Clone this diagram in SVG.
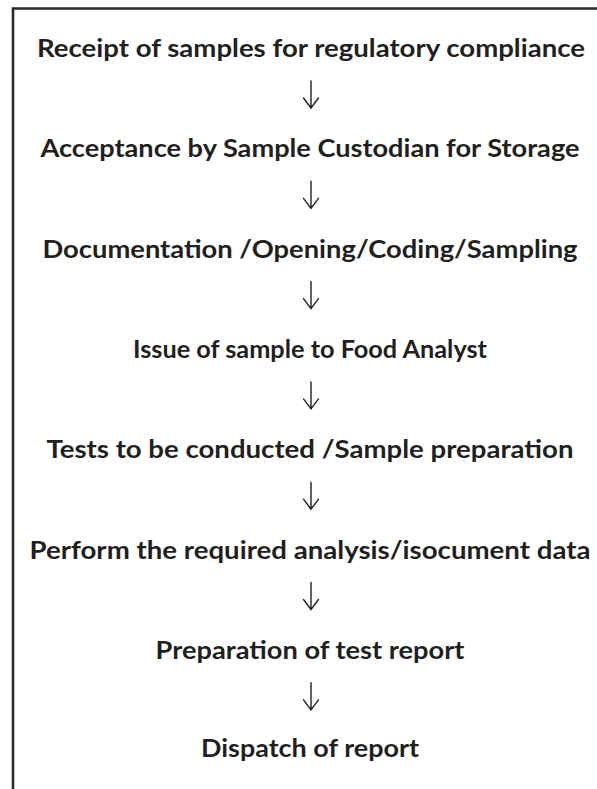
<svg xmlns="http://www.w3.org/2000/svg" width="597" height="789" viewBox="0 0 597 789">
  <style>
    .step { font-family: "Lato", "Open Sans", "Liberation Sans", sans-serif; font-weight: 700; font-size: 25px; fill: #231f20; text-anchor: middle; }
    .conn { fill: none; stroke: #231f20; stroke-width: 1.4; stroke-linecap: round; stroke-linejoin: miter; }
    .frame { fill: none; stroke: #2b2b2b; stroke-width: 2.6; }
  </style>
  <defs>
    <!-- thin downward arrow: shaft plus open chevron head -->
    <g id="down-arrow">
      <path class="conn" d="M0 0 V27 M-7.5 17 L0 27 L7.5 17"/>
    </g>
  </defs>
  <rect width="597" height="789" fill="#ffffff"/>
  <!-- outer frame: top and left edges -->
  <path class="frame" d="M13 789 V8.5 H597"/>

  <g id="connectors">
    <use href="#down-arrow" x="311" y="81"/>
    <use href="#down-arrow" x="311" y="181.3"/>
    <use href="#down-arrow" x="311" y="281.6"/>
    <use href="#down-arrow" x="311" y="381.9"/>
    <use href="#down-arrow" x="311" y="482.2"/>
    <use href="#down-arrow" x="311" y="582.5"/>
    <use href="#down-arrow" x="311" y="682.8"/>
  </g>

  <g id="step-receipt"><text class="step" x="311" y="57" textLength="548" lengthAdjust="spacingAndGlyphs">Receipt of samples for regulatory compliance</text></g>
  <g id="step-acceptance"><text class="step" x="310" y="157.3" textLength="539" lengthAdjust="spacingAndGlyphs">Acceptance by Sample Custodian for Storage</text></g>
  <g id="step-documentation"><text class="step" x="310" y="257.6" textLength="535" lengthAdjust="spacingAndGlyphs">Documentation /Opening/Coding/Sampling</text></g>
  <g id="step-issue"><text class="step" x="310" y="357.9" textLength="354" lengthAdjust="spacingAndGlyphs">Issue of sample to Food Analyst</text></g>
  <g id="step-tests"><text class="step" x="310" y="458.2" textLength="527" lengthAdjust="spacingAndGlyphs">Tests to be conducted /Sample preparation</text></g>
  <g id="step-perform"><text class="step" x="310" y="558.5" textLength="561" lengthAdjust="spacingAndGlyphs">Perform the required analysis/isocument data</text></g>
  <g id="step-report"><text class="step" x="310" y="658.8" textLength="309" lengthAdjust="spacingAndGlyphs">Preparation of test report</text></g>
  <g id="step-dispatch"><text class="step" x="310" y="757.3" textLength="218" lengthAdjust="spacingAndGlyphs">Dispatch of report</text></g>
</svg>
